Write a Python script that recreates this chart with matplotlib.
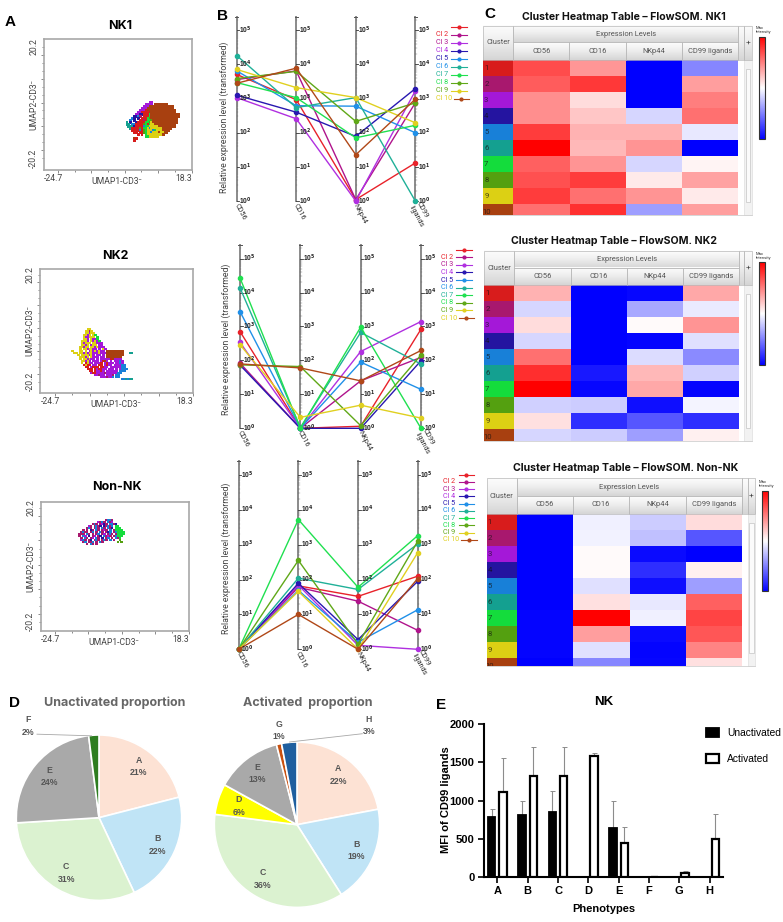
import numpy as np
import matplotlib
matplotlib.use("Agg")
from matplotlib import pyplot as plt
from matplotlib.colors import ListedColormap
from matplotlib.patches import Rectangle

W, H = 783, 922

cluster_colors = ["#d81c1c", "#a8186e", "#a418d8", "#2414a0", "#1880d8",
                  "#14a090", "#14dc3c", "#54a010", "#dcd014", "#a84010"]
line_colors = ["#e8222a", "#b0148c", "#b030e0", "#2818b0", "#2090e8",
               "#20b098", "#20e050", "#60a818", "#e0d020", "#b04818"]
markers = ["CD56", "CD16", "NKp44", "CD99 ligands"]
parallel_names = ["CD56", "CD16", "NKp44", "CD99\nligands"]
cluster_names = ["", "Cl 2", "Cl 3", "Cl 4", "Cl 5", "Cl 6", "Cl 7", "Cl 8", "Cl 9", "Cl 10"]

# UMAP cells, one character per cell: digit = cluster (0 is cluster 10), dot = empty
nk1_cells = [
    "............33",
    "..........3333.0000000",
    ".........3330000000000000",
    "........33300000000000000",
    ".......3331000000000000000",
    "......33111100000000000000",
    ".....33441117000000000000000",
    "....4452.1117000000000000000",
    "...54.4.1117800000000000000",
    "..5.4..11217780000000000000",
    "6.4..4111177890000000000000",
    "66.55111187179900000000000",
    ".6664111157799999000000000",
    "..6111181779599999900000",
    "...11115187999579990000",
    "....11.118799599909900",
    "......1.1.7999999990",
    "..........7799999",
    "....01",
    "....1",
]
nk2_cells = [
    "........99",
    ".......9929",
    ".......99399",
    "......9939.97",
    "......933999.7",
    "......993.9337",
    ".....9993.93937",
    ".....93999.99333",
    ".....9939.399.33",
    "....99399.9939333",
    "....9.9939933.3.93",
    "9...99.9.39393933.000000000",
    ".99.99393993339333000000000...66",
    "...9.9999393.33.3.000000000",
    "....99939.9333.33.00000000",
    "....9.993933.3.33333103333",
    ".....99393.333.3103.3.33353",
    ".....9.1933.3331.31333.3353",
    "......1911.33.11.3133.333355",
    ".......11.3111.1133.33333355",
    "........111.131133.333.3.3555",
    ".........11.13313.333333.555",
    "..........3113333233333355",
    "............33233.3332.55",
    "...............3332335.55",
    "..........................556566",
]
non_nk_cells = [
    "..............2552",
    "..........3252.523",
    ".......252.2342.5524",
    ".....32.2524.42525.77",
    "....252.252.52.524.777",
    "..2.2.42.52.232.5.27777",
    ".2522.25.2.52.245.257777",
    "222.52.2.25.23.252.27777",
    "2.53.4.23.24.5232.25777",
    ".2.52.23.52.4.25.2.527",
    ".352.24.252.252.5.2..8",
    "..25.225.2.52.......8.8",
    "....2.52.2",
]

# per cluster: CD56, CD16, NKp44, CD99 ligands
nk1_levels = [
    [5100, 930, 1.1, 13],
    [3600, 6500, 1.1, 750],
    [1070, 257, 1.0, 1680],
    [1260, 400, 78, 1960],
    [6500, 620, 600, 100],
    [18300, 545, 1070, 1.0],
    [2950, 1070, 71, 165],
    [3870, 6300, 215, 750],
    [7150, 2100, 1070, 196],
    [2820, 7800, 22.6, 960],
]
nk2_levels = [
    [710, 1.0, 1.15, 830],
    [83, 1.0, 25, 123],
    [340, 1.0, 183, 1400],
    [73, 1.0, 1.0, 98],
    [2760, 1.0, 89, 14],
    [13700, 1.05, 665, 78],
    [27000, 1.0, 955, 1.0],
    [74, 66, 1.2, 144],
    [290, 2.1, 4.8, 2.0],
    [79, 60, 25, 196],
]
non_nk_levels = [
    [1.0, 66, 33, 125],
    [1.0, 60, 24, 3.5],
    [1.0, 69, 1.3, 1.0],
    [1.0, 78, 1.9, 89],
    [1.0, 49, 1.6, 13.6],
    [1.0, 110, 52, 1050],
    [1.0, 5250, 60, 1820],
    [1.0, 355, 1.4, 1250],
    [1.0, 46, 1.0, 590],
    [1.0, 10, 1.0, 107],
]

# heat scale: 0 is full blue, 0.5 white, 1 full red
nk1_heat = [
    [.85, .705, 0, .265],
    [.82, .89, 0, .69],
    [.72, .57, 0, .75],
    [.72, .61, .42, .78],
    [.88, .65, .65, .455],
    [1.0, .64, .71, 0],
    [.81, .71, .42, .52],
    [.84, .88, .54, .68],
    [.88, .78, .71, .54],
    [.78, .905, .31, .69],
]
nk2_heat = [
    [.65, 0, .015, .67],
    [.42, 0, .33, .46],
    [.57, 0, .51, .71],
    [.42, 0, .01, .44],
    [.78, 0, .43, .27],
    [.91, .05, .64, .41],
    [1.0, .015, .67, .01],
    [.41, .40, .03, .48],
    [.56, .09, .17, .09],
    [.42, .40, .31, .53],
]
non_nk_heat = [
    [0, .47, .40, .57],
    [0, .475, .375, .17],
    [0, .51, .02, 0],
    [0, .51, .09, .53],
    [0, .44, .03, .31],
    [0, .56, .455, .81],
    [.01, 1.0, .47, .865],
    [.01, .69, .02, .83],
    [.01, .44, .01, .74],
    [0, .265, .015, .56],
]

unact_labels = ["A", "B", "C", "E", "F"]
unact_shares = [21, 22, 31, 24, 2]
unact_colors = ["#fde2d4", "#c0e4f6", "#dbf2d0", "#a9a9a9", "#2e7d20"]
act_labels = ["A", "B", "C", "D", "E", "G", "H"]
act_shares = [22, 19, 36, 6, 13, 1, 3]
act_colors = ["#fde2d4", "#c0e4f6", "#dbf2d0", "#ffff00", "#a9a9a9", "#c8500f", "#1f5f9f"]

phenotypes = ["A", "B", "C", "D", "E", "F", "G", "H"]
unact_mfi = [790, 810, 850, 0, 640, 0, 0, 0]
unact_err = [100, 180, 280, 0, 360, 0, 0, 0]
act_mfi = [1110, 1320, 1320, 1580, 445, 0, 50, 500]
act_err = [445, 380, 380, 40, 205, 0, 30, 320]

plt.rcParams["font.family"] = ["Roboto", "DejaVu Sans"]
fig = plt.figure(figsize=(W / 100, H / 100), dpi=100)

# overlay in pixel units, used for text and table furniture
overlay = fig.add_axes([0, 0, 1, 1], zorder=5)
overlay.set_xlim(0, W)
overlay.set_ylim(H, 0)
overlay.axis("off")


def axes_px(left, top, right, bottom, **kwargs):
    return fig.add_axes([left / W, 1 - bottom / H, (right - left) / W, (bottom - top) / H], **kwargs)


def label(x, y, s, **kwargs):
    kwargs.setdefault("ha", "center")
    kwargs.setdefault("va", "center")
    overlay.text(x, y, s, **kwargs)


for s, x, y in [("A", 10, 22), ("B", 223, 16), ("C", 490, 14), ("D", 15, 703), ("E", 441, 705)]:
    label(x, y, s, fontsize=11, fontweight="bold", family=["Liberation Sans"])


def draw_umap(cells, box, xref, yref, x0, y0, title, title_pos):
    left, top, right, bottom = box
    ax = axes_px(left, top, right, bottom)
    xscale = (xref[1] - xref[0]) / 43.0
    yscale = (yref[1] - yref[0]) / 40.4
    ax.set_xlim(-24.7 - (xref[0] - left) / xscale, 18.3 + (right - xref[1]) / xscale)
    ax.set_ylim(-20.2 - (bottom - yref[1]) / yscale, 20.2 + (yref[0] - top) / yscale)
    xs, ys, cs = [], [], []
    for r, row in enumerate(cells):
        for c, ch in enumerate(row):
            if ch != ".":
                xs.append(x0 + c * 2 / xscale)
                ys.append(y0 - r * 2 / yscale)
                cs.append(cluster_colors[(int(ch) - 1) % 10])
    ax.scatter(xs, ys, c=cs, s=3.4, marker="s", linewidths=0)
    ax.set_xticks(np.arange(-4, 4) * 5.73, minor=True)
    ax.set_xticks(np.arange(-2, 3) * 11.46)
    ax.set_yticks(np.arange(-7, 8) * 2.9, minor=True)
    ax.set_yticks(np.arange(-2, 3) * 8.7)
    ax.tick_params(which="major", length=2.5, width=0.6, color="#777777", labelleft=False, labelbottom=False)
    ax.tick_params(which="minor", length=1.5, width=0.6, color="#777777")
    for sp in ax.spines.values():
        sp.set_color("#a8a8a8")
        sp.set_linewidth(1.2)
    label(title_pos[0], title_pos[1], title, fontsize=9, fontweight="bold", family=["Inter"])
    cx = (left + right) / 2 - 1
    label(xref[0], bottom + 8.5, "-24.7", fontsize=6.2, color="#444444")
    label(xref[1], bottom + 8.5, "18.3", fontsize=6.2, color="#444444")
    label(cx, bottom + 11, "UMAP1-CD3\u207b", fontsize=6.2, color="#444444", family=["Roboto", "DejaVu Sans"])
    label(left - 10, yref[0], "20.2", fontsize=6.2, color="#444444", rotation=90)
    label(left - 10, yref[1], "-20.2", fontsize=6.2, color="#444444", rotation=90)
    label(left - 10, (top + bottom) / 2, "UMAP2-CD3\u207b", fontsize=6.2, color="#444444", rotation=90)


draw_umap(nk1_cells, (43.7, 39, 191.7, 170), (53, 184), (47, 158), 0.7, -0.1, "NK1", (120, 25.7))
draw_umap(nk2_cells, (40, 268.7, 193.3, 393.3), (50, 185), (275, 381.7), -17.1, -0.3, "NK2", (115.7, 256))
draw_umap(non_nk_cells, (40.7, 501.7, 189, 631), (50, 181), (508, 621.7), -14.5, 15.9, "Non-NK", (117, 486.7))


def draw_parallel(levels, xs, top, bottom, ylabel_pos, legend_x, legend_y, legend_step):
    ax = axes_px(xs[0], top, xs[-1], bottom)
    ax.set_yscale("log")
    ax.set_xlim(0, 3)
    ax.set_ylim(1, 10 ** 5.4)
    ax.axis("off")
    tick_w = 5 / (xs[1] - xs[0])
    for i in range(4):
        ax.plot([i, i], [1, 10 ** 5.4], color="#8a8a8a", lw=1.4, clip_on=False, zorder=1)
        ax.plot([i - 1.5 * tick_w / 5, i + 1.5 * tick_w / 5], [10 ** 5.4] * 2, color="#555555", lw=0.7, clip_on=False)
        for d in range(6):
            ax.plot([i, i + tick_w * 0.5], [10.0 ** d] * 2, color="#333333", lw=0.6, clip_on=False, zorder=1)
            for m in range(2, 10):
                if d + np.log10(m) < 5.4:
                    ax.plot([i, i + tick_w * 0.25], [m * 10.0 ** d] * 2, color="#666666", lw=0.3, zorder=1, clip_on=False)
            ax.text(i + tick_w * 1.75, 10.0 ** d, "10$^{\\mathbf{%d}}$" % d, fontsize=4.8, fontweight="bold",
                    ha="center", va="center", zorder=4, family=["Liberation Sans"], color="#222222")
        label(xs[i] - 1, bottom + 3, parallel_names[i], fontsize=5.2, color="#333333",
              rotation=-62, rotation_mode="anchor", ha="left", va="center")
    for k, row in enumerate(levels):
        ax.plot(range(4), row, color=line_colors[k], lw=1.0, marker="o", ms=3.0, clip_on=False, zorder=3 + k * 0.01)
    label(ylabel_pos[0], ylabel_pos[1], "Relative expression level (transformed)", fontsize=6.3, rotation=90, color="#444444")
    for k, name in enumerate(cluster_names):
        y = legend_y + k * legend_step
        if name:
            label(legend_x, y, name, fontsize=5.2, color=line_colors[k - 1], ha="left")
        ext = 2.5 if k == 9 else 0
        overlay.plot([legend_x + 15.5 + ext, legend_x + 31 + ext], [y, y], color=line_colors[k], lw=0.8)
        overlay.plot([legend_x + 23 + ext], [y], color=line_colors[k], marker="o", ms=2)


draw_parallel(nk1_levels, (236.7, 296, 355.7, 415.3), 16.7, 201, (224, 117), 435.7, 26.7, 8.0)
draw_parallel(nk2_levels, (240, 300, 360.7, 421), 245, 428.3, (226.7, 339), 440.7, 249.7, 7.6)
draw_parallel(non_nk_levels, (238.7, 298.3, 358.3, 417.7), 461, 649.3, (226.7, 558), 443, 474.7, 7.25)


def header_cell(x0, x1, y0, y1, txt=None):
    grad = np.linspace(0, 1, 32).reshape(-1, 1)
    overlay.imshow(grad, extent=(x0, x1, y1, y0), cmap="Greys", vmin=-0.1, vmax=4, aspect="auto", zorder=1)
    overlay.add_patch(Rectangle((x0, y0), x1 - x0, y1 - y0, fill=False, ec="#b8b8b8", lw=0.5, zorder=2))
    if txt:
        label((x0 + x1) / 2, (y0 + y1) / 2, txt, fontsize=5.4, color="#555555", zorder=3, family=["Roboto"])


def draw_heat(values, origin, xe, ye, cbar, title, title_pos):
    ox, oy = origin
    x = [ox + v / 3 for v in xe]
    y = [oy + v / 3 for v in ye]
    header_cell(x[0], x[1], y[0], y[2], "Cluster")
    header_cell(x[1], x[5], y[0], y[1], "Expression Levels")
    for j, name in enumerate(markers):
        header_cell(x[j + 1], x[j + 2], y[1], y[2], name)
    header_cell(x[5], x[6], y[0], y[2])
    header_cell(x[6], x[7], y[0], y[2])
    label((x[6] + x[7]) / 2, (y[0] + y[2]) / 2, "+", fontsize=6, color="#444444", zorder=3)

    # body rows are 16 px tall and the last one is cut off by the table edge
    visible = (y[3] - y[2]) / 16.0
    strip = axes_px(x[0], y[2], x[1], y[3], zorder=3)
    strip.pcolormesh(np.arange(10).reshape(-1, 1), cmap=ListedColormap(cluster_colors), vmin=0, vmax=9)
    strip.set_ylim(visible, 0)
    strip.axis("off")
    for i in range(10):
        strip.text(0.1, i + 0.5, str(i + 1), fontsize=5.6, color="#111111", alpha=0.7, ha="center", va="center", clip_on=True)
    heat = axes_px(x[1], y[2], x[5], y[3], zorder=3)
    mesh = heat.pcolormesh(np.array(values), cmap="bwr", vmin=0, vmax=1)
    heat.set_ylim(visible, 0)
    heat.axis("off")

    # scroll bar column
    overlay.add_patch(Rectangle((x[6], y[2]), x[7] - x[6], y[3] - y[2], fc="#f2f2f2", ec="#d8d8d8", lw=0.4, zorder=1))
    overlay.add_patch(Rectangle((x[6] + 1.2, y[2] + 9), x[7] - x[6] - 2.4, y[3] - y[2] - 22, fc="#fbfbfb", ec="#c4c4c4", lw=0.5, zorder=2))
    overlay.plot([x[0], x[7]], [y[3], y[3]], color="#d0d0d0", lw=0.6, zorder=2)

    cax = axes_px(ox + cbar[0] / 3, oy + cbar[2] / 3, ox + cbar[1] / 3, oy + cbar[3] / 3, zorder=3)
    cb = fig.colorbar(mesh, cax=cax)
    cb.set_ticks([])
    cb.outline.set_linewidth(0.8)
    cb.outline.set_edgecolor("#333333")
    label(ox + cbar[0] / 3 - 3.5, oy + cbar[2] / 3 - 6.5, "Max\nIntensity", fontsize=3, color="#333333",
          ha="left", linespacing=1.1)
    label(title_pos[0], title_pos[1], title, fontsize=7.6, fontweight="bold", family=["Inter"], color="#111111")


draw_heat(nk1_heat, (480, 0), [10, 100, 268, 437, 607, 775, 793, 815], [77, 127, 181, 645],
          (836, 855, 110, 418), "Cluster Heatmap Table \u2013 FlowSOM. NK1", (624, 16.7))
draw_heat(nk2_heat, (480, 235), [13, 103, 272, 440, 608, 777, 793, 815], [47, 98, 151, 618],
          (836, 855, 82, 390), "Cluster Heatmap Table \u2013 FlowSOM. NK2", (614, 241))
draw_heat(non_nk_heat, (480, 460), [20, 110, 278, 448, 617, 787, 803, 825], [55, 108, 161, 618],
          (846, 864, 92, 394), "Cluster Heatmap Table \u2013 FlowSOM. Non-NK", (626, 468))


def draw_pie(shares, names, colors, center, title, title_pos, outside):
    r = 82.7
    ax = axes_px(center[0] - r, center[1] - r, center[0] + r, center[1] + r)
    wedges, _ = ax.pie(shares, colors=colors, startangle=90, counterclock=False, radius=1,
                       wedgeprops=dict(edgecolor="white", linewidth=1.2))
    ax.set_xlim(-1, 1)
    ax.set_ylim(-1, 1)
    for w, name, share in zip(wedges, names, shares):
        if name in outside:
            continue
        angle = np.deg2rad((w.theta1 + w.theta2) / 2)
        # narrow slices sit closer to the rim
        d = 0.78 if share > 10 else 0.74
        ax.text(d * np.cos(angle), d * np.sin(angle), "%s\n%d%%" % (name, share), fontsize=6.3, fontweight="bold",
                color="#555555", ha="center", va="center", linespacing=1.5, family=["Liberation Sans"])
    for w, name, share in zip(wedges, names, shares):
        if name in outside:
            tx, ty, lx, ly, ex, ey = outside[name]
            label(center[0] + tx * r, center[1] - ty * r, "%s\n%d%%" % (name, share), fontsize=6.3, fontweight="bold",
                  color="#555555", linespacing=1.5, family=["Liberation Sans"])
            if lx is not None:
                overlay.plot([center[0] + lx * r, center[0] + ex * r], [center[1] - ly * r, center[1] - ey * r],
                             color="#a8a8a8", lw=0.6)
    label(title_pos[0], title_pos[1], title, fontsize=9, fontweight="bold", color="#666666", family=["Inter"])


draw_pie(unact_shares, unact_labels, unact_colors, (99, 817.7), "Unactivated proportion", (115, 703),
         {"F": (-0.855, 1.11, -0.75, 1.01, -0.09, 0.99)})
draw_pie(act_shares, act_labels, act_colors, (297, 824.7), "Activated  proportion", (307.5, 703),
         {"G": (-0.22, 1.14, None, None, None, None), "H": (0.87, 1.2, 0.79, 1.1, -0.09, 1.0)})

# phenotype bars
ax = axes_px(484, 724.3, 722.7, 876.7)
pos = np.arange(len(phenotypes))
ax.bar(pos - 0.19, unact_mfi, width=0.24, color="black", edgecolor="black", linewidth=1.3, label="Unactivated", zorder=3)
ax.bar(pos + 0.19, act_mfi, width=0.24, color="white", edgecolor="black", linewidth=1.6, label="Activated", zorder=3)
keep_u = [i for i, v in enumerate(unact_err) if v > 0]
keep_a = [i for i, v in enumerate(act_err) if v > 0]
ax.errorbar(pos[keep_u] - 0.19, np.array(unact_mfi)[keep_u], yerr=[np.zeros(len(keep_u)), np.array(unact_err)[keep_u]],
            fmt="none", ecolor="#8c8c8c", elinewidth=0.8, capsize=1.8, capthick=0.7, zorder=2)
ax.errorbar(pos[keep_a] + 0.19, np.array(act_mfi)[keep_a], yerr=[np.zeros(len(keep_a)), np.array(act_err)[keep_a]],
            fmt="none", ecolor="#8c8c8c", elinewidth=0.8, capsize=1.8, capthick=0.7, zorder=2)
ax.set_xlim(-0.44, 7.43)
ax.set_ylim(0, 2000)
ax.set_yticks([0, 500, 1000, 1500, 2000])
ax.set_xticks(pos)
ax.set_xticklabels(phenotypes)
ax.tick_params(width=1.2, length=4.5, labelsize=8, pad=2.5)
for t in ax.get_xticklabels() + ax.get_yticklabels():
    t.set_fontweight("bold")
    t.set_family(["Liberation Sans"])
for name in ["top", "right"]:
    ax.spines[name].set_visible(False)
for name in ["left", "bottom"]:
    ax.spines[name].set_linewidth(1.5)
handles, names = ax.get_legend_handles_labels()
label(604, 702, "NK", fontsize=9.5, fontweight="bold", family=["Liberation Sans"])
label(604, 909, "Phenotypes", fontsize=8, fontweight="bold", family=["Liberation Sans"])
label(446, 800, "MFI of CD99 ligands", fontsize=8, fontweight="bold", rotation=90, family=["Liberation Sans"])
ax.legend(handles, names, loc="upper left", bbox_to_anchor=(0.89, 1.035), frameon=False,
          handlelength=1.3, handleheight=0.95, labelspacing=1.5, handletextpad=0.75,
          prop={"family": "Liberation Sans", "size": 7.4})

fig.savefig("out.png", dpi=100)
